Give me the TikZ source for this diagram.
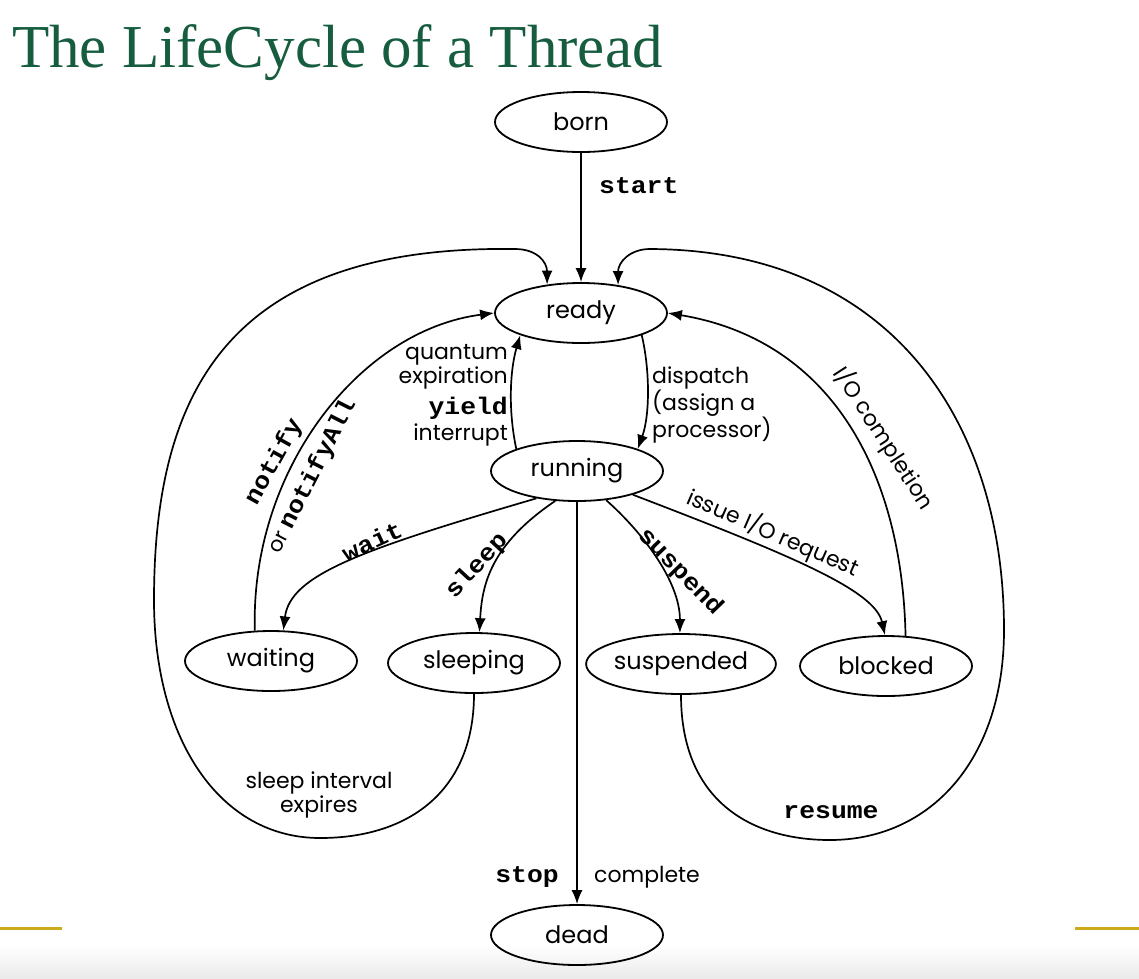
\documentclass[tikz,border=0pt]{standalone}
\usepackage{fontspec}
\setmainfont{Poppins}
\newfontfamily\titlefont{Liberation Serif}
\newfontfamily\codefont{Liberation Mono}
\usetikzlibrary{shapes.geometric,arrows.meta}
\definecolor{titlegreen}{RGB}{22,92,62}
\definecolor{goldline}{RGB}{205,170,25}
\newcommand\codetxt[1]{\scalebox{1.1}[1.0]{\codefont\bfseries\fontsize{24}{24}\selectfont #1}}
\begin{document}
\begin{tikzpicture}[x=1pt,y=-1pt,
  state/.style={draw,ellipse,line width=1.8pt,minimum width=172pt,minimum height=60pt,inner sep=0pt,font=\fontsize{24}{26}\selectfont},
  conn/.style={line width=1.7pt,-{Latex[length=14pt,width=11pt]}},
  lbl/.style={font=\fontsize{22}{23.5}\selectfont,inner sep=1pt},
  code/.style={inner sep=1pt},
]
\useasboundingbox (0,0) rectangle (1139,978);
\shade[top color=white,bottom color=black!8] (0,945) rectangle (1139,978);

% title
\node[anchor=base west,font=\titlefont\fontsize{61}{61}\selectfont,text=titlegreen,inner sep=0pt] (title) at (12,67) {The LifeCycle of a Thread};

% states
\node[state] (born) at (581,122) {born};
\node[state] (ready) at (581,313) {ready};
\node[state] (running) at (577,471) {running};
\node[state] (waiting) at (271,661) {waiting};
\node[state] (sleeping) at (474,663) {sleeping};
\node[state] (suspended) at (681,664) {suspended};
\node[state] (blocked) at (886,666) {blocked};
\node[state] (dead) at (577,935) {dead};

% born -> ready
\draw[conn] (born.south) -- (ready.north);
\node[code,anchor=west] (lstart) at (598,186) {\codetxt{start}};

% ready <-> running
\draw[conn] (ready.-20) .. controls (650,370) and (650,415) .. (running.20);
\node[lbl,anchor=west,align=left] (ldispatch) at (651,405) {dispatch\\(assign a\\processor)};
\draw[conn] (running.160) .. controls (508,410) and (510,370) .. (ready.200);
\node[lbl,anchor=east,align=right] (lquantum) at (509,367) {quantum\\expiration};
\node[code,anchor=east] (lyield) at (509,408) {\codetxt{yield}};
\node[lbl,anchor=east] (linterrupt) at (509,435) {interrupt};

% running -> waiting
\draw[conn] (running.214) .. controls (360,550) and (290,575) .. (waiting.68);
\node[code,rotate=25] (lwait) at (372,541) {\codetxt{wait}};

% running -> sleeping
\draw[conn] (running.234) .. controls (490,545) and (482,585) .. (sleeping.80);
\node[code,rotate=47] (lsleep) at (477,566) {\codetxt{sleep}};

% running -> dead
\draw[conn] (running.south) -- (dead.north);
\node[code] (lstop) at (527,877) {\codetxt{stop}};
\node[lbl] (lcomplete) at (647,877) {complete};

% running -> suspended
\draw[conn] (running.-45) .. controls (640,530) and (680,580) .. (suspended.92);
\node[code,rotate=-46] (lsuspend) at (680,572) {\codetxt{suspend}};

% running -> blocked
\draw[conn] (running.-23) .. controls (790,555) and (875,590) .. (blocked.92);
\node[lbl,rotate=-23.5] (lissue) at (773,533) {issue I/O request};

% waiting -> ready
\draw[conn] (waiting.118) .. controls (250,470) and (360,330) .. (ready.west);
\node[code,rotate=61] (lnotify) at (274,462) {\codetxt{notify}};
\node[rotate=63,inner sep=1pt] (lnotifyall) at (312,476) {{\fontsize{21}{22}\selectfont or }\codetxt{notifyAll}};

% blocked -> ready
\draw[conn] (blocked.57) .. controls (902,470) and (830,340) .. (ready.east);
\node[lbl,rotate=-57] (liocomp) at (884,438) {I/O completion};

% sleeping -> ready (left loop)
\draw[conn] (sleeping.south) .. controls (474,790) and (410,838) .. (320,838)
  .. controls (220,838) and (154,740) .. (154,600)
  .. controls (154,390) and (230,245) .. (515,249)
  .. controls (537,249) and (547,262) .. (ready.140);
\node[lbl,align=center] (lsleepint) at (319,795) {sleep interval\\expires};

% suspended -> ready (right loop)
\draw[conn] (suspended.south) .. controls (681,800) and (750,840) .. (830,840)
  .. controls (930,840) and (1004,760) .. (1004,630)
  .. controls (1004,420) and (890,250) .. (650,249)
  .. controls (630,249) and (618,262) .. (ready.37);
\node[code] (lresume) at (831,812) {\codetxt{resume}};

% gold rules
\draw[goldline,line width=3pt] (0,928) -- (62,928);
\draw[goldline,line width=3pt] (1075,928) -- (1139,928);
\end{tikzpicture}
\end{document}
